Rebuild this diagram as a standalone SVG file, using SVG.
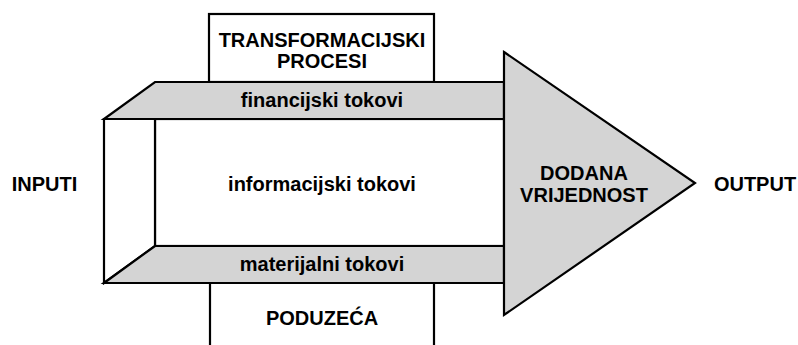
<svg xmlns="http://www.w3.org/2000/svg" width="798" height="345" viewBox="0 0 798 345">
<style>
.s{stroke:#000;stroke-width:2.2;stroke-linejoin:miter}
.w{fill:#fff}
.g{fill:#d4d4d4}
.n{fill:none}
text{font-family:"Liberation Sans",Arial,sans-serif;font-weight:bold;font-size:20px;fill:#000;text-anchor:middle}
</style>
<rect width="798" height="345" fill="#fff"/>
<g id="procesi">
<rect class="s w" x="209" y="14" width="225" height="68"/>
<text x="322" y="47">TRANSFORMACIJSKI</text>
<text x="322" y="68">PROCESI</text>
</g>
<g id="poduzeca">
<rect class="w" x="210" y="283" width="224" height="70"/>
<path class="s n" d="M210,283 V346 M434,283 V346"/>
<text x="322" y="325">PODUZEĆA</text>
</g>
<g id="frame">
<rect class="s w" x="155" y="119" width="349" height="127"/>
<path class="s w" d="M104,119 H155 V246 L104,283 Z"/>
<text x="322" y="191">informacijski tokovi</text>
</g>
<g id="financijski">
<polygon class="s g" points="155,82 504,82 504,119 104,119"/>
<text x="322" y="107">financijski tokovi</text>
</g>
<g id="materijalni">
<polygon class="s g" points="155,246 504,246 504,283 104,283"/>
<text x="322" y="271">materijalni tokovi</text>
</g>
<g id="dodana">
<polygon class="s g" points="504,52 695,183 504,315"/>
<text x="584" y="180">DODANA</text>
<text x="584" y="202">VRIJEDNOST</text>
</g>
<g id="inputi"><text x="44.5" y="191">INPUTI</text></g>
<g id="output"><text x="755" y="191">OUTPUT</text></g>
<g id="connectors"></g>
</svg>
